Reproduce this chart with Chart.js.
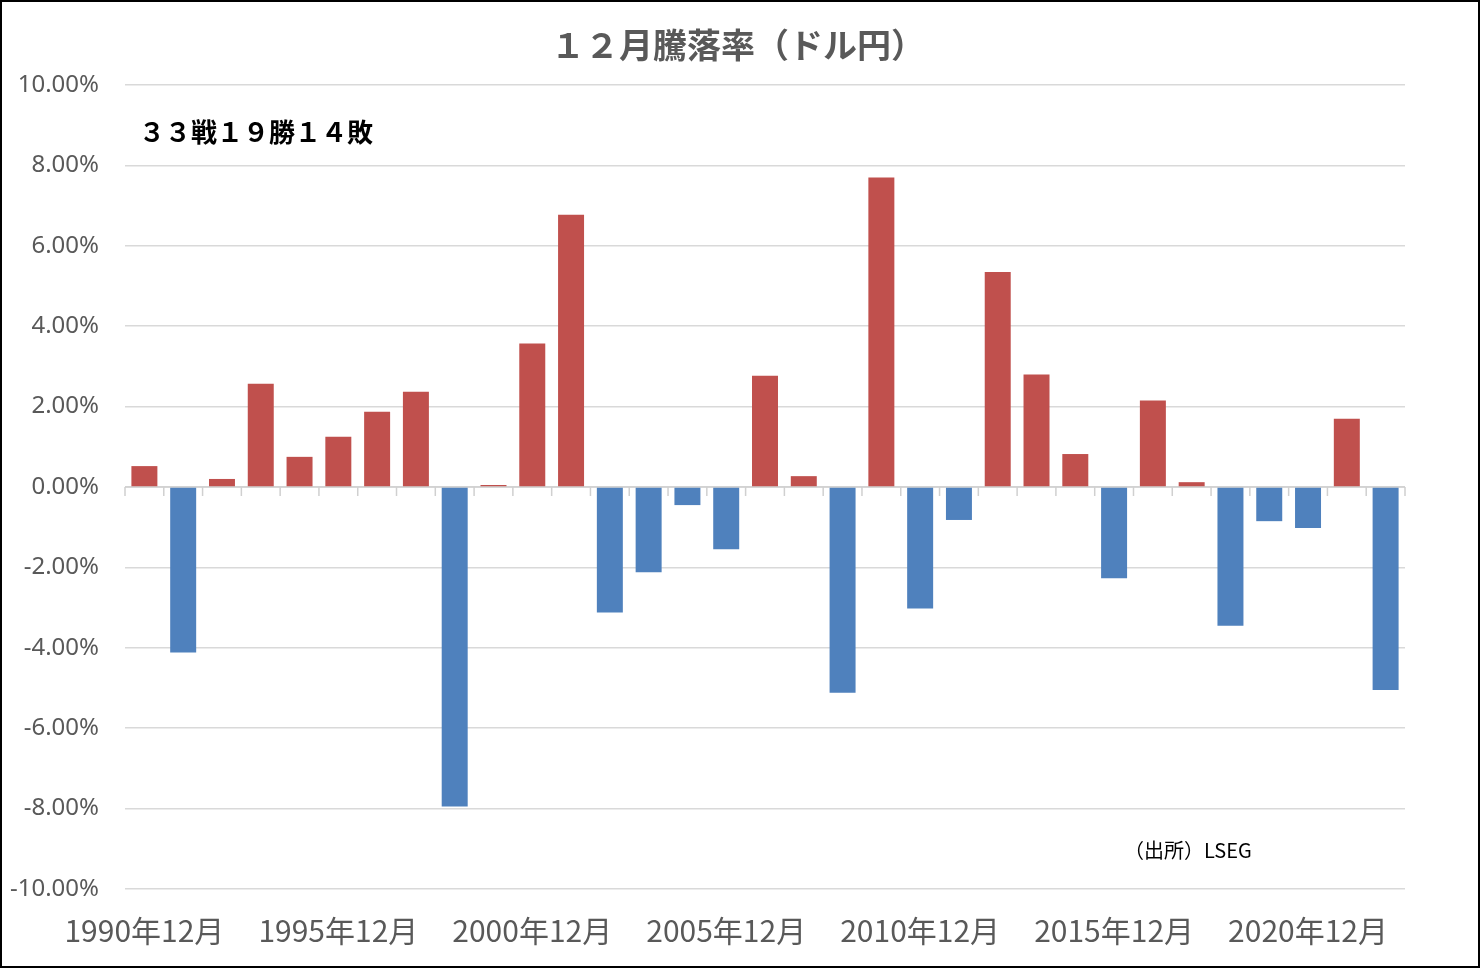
<!DOCTYPE html>
<html lang="ja">
<head>
<meta charset="utf-8">
<title>12月騰落率（ドル円）</title>
<script src="https://cdn.jsdelivr.net/npm/chart.js@4/dist/chart.umd.min.js"></script>
<style>
    html, body { margin: 0; padding: 0; background: #fff; }
    #wrap { width: 1480px; height: 968px; position: relative; }
</style>
</head>
<body>
<div id="wrap"><canvas id="chart" width="1480" height="968"></canvas></div>
<script>
// years 1990..2022, December change of USD/JPY (%)
const years = [1990, 1991, 1992, 1993, 1994, 1995, 1996, 1997, 1998, 1999,
    2000, 2001, 2002, 2003, 2004, 2005, 2006, 2007, 2008, 2009,
    2010, 2011, 2012, 2013, 2014, 2015, 2016, 2017, 2018, 2019,
    2020, 2021, 2022];
const changes = [0.52, -4.12, 0.20, 2.57, 0.75, 1.25, 1.87, 2.37, -7.95, 0.05,
    3.57, 6.77, -3.12, -2.12, -0.45, -1.55, 2.77, 0.27, -5.12, 7.70,
    -3.02, -0.82, 5.35, 2.80, 0.82, -2.27, 2.15, 0.12, -3.45, -0.85,
    -1.02, 1.70, -5.05];
const yTicks = [10, 8, 6, 4, 2, 0, -2, -4, -6, -8, -10];

const titleText = '１２月騰落率（ドル円）';
const recordText = '３３戦１９勝１４敗';
const sourceText = '（出所）LSEG';

const labels = years.map(y => y + '年12月');
const barColors = changes.map(v => v >= 0 ? '#C0504D' : '#4F81BD');

const jpFont = '"Noto Sans CJK JP", "Noto Sans", sans-serif';

// zero line with small ticks at category boundaries + texts + frame
const extras = {
    id: 'extras',
    beforeDatasetsDraw(chart) {
        const ctx = chart.ctx;
        const x = chart.scales.x;
        const y0 = chart.scales.y.getPixelForValue(0);
        const step = (x.right - x.left) / years.length;
        ctx.save();
        ctx.strokeStyle = '#d0d0d0';
        ctx.lineWidth = 1.5;
        ctx.beginPath();
        ctx.moveTo(x.left, y0);
        ctx.lineTo(x.right, y0);
        for (let i = 0; i <= years.length; i++) {
            const px = x.left + i * step;
            ctx.moveTo(px, y0);
            ctx.lineTo(px, y0 + 9);
        }
        ctx.stroke();
        ctx.restore();
    },
    afterDraw(chart) {
        const ctx = chart.ctx;
        ctx.save();
        ctx.textBaseline = 'middle';
        // title, centred on the whole picture like the original
        ctx.fillStyle = '#595959';
        ctx.textAlign = 'center';
        ctx.font = 'bold 34px ' + jpFont;
        ctx.fillText(titleText, 738, 45);
        ctx.textAlign = 'left';
        ctx.fillStyle = '#000';
        ctx.font = 'bold 26px ' + jpFont;
        ctx.fillText(recordText, 139, 132);
        ctx.font = '20px ' + jpFont;
        ctx.fillText(sourceText, 1124, 850);
        ctx.strokeStyle = '#000';
        ctx.lineWidth = 2;
        ctx.strokeRect(1, 1, chart.width - 2, chart.height - 2);
        ctx.restore();
    }
};

new Chart(document.getElementById('chart'), {
    type: 'bar',
    data: {
        labels: labels,
        datasets: [{
            data: changes,
            backgroundColor: barColors,
            borderWidth: 0,
            barPercentage: 0.67,
            categoryPercentage: 1.0
        }]
    },
    options: {
        responsive: false,
        animation: false,
        layout: { padding: { left: 0, right: 75, top: 85, bottom: 0 } },
        plugins: {
            legend: { display: false },
            tooltip: { enabled: false },
            title: { display: false }
        },
        scales: {
            x: {
                grid: { display: false },
                border: { display: false },
                ticks: {
                    autoSkip: false,
                    maxRotation: 0,
                    minRotation: 0,
                    color: '#595959',
                    font: { family: jpFont, size: 30 },
                    padding: 16,
                    callback: (val, i) => (i % 5 === 0 ? labels[i] : '')
                },
                afterFit: axis => { axis.height = 79; }
            },
            y: {
                min: -10,
                max: 10,
                afterBuildTicks: axis => { axis.ticks = yTicks.map(v => ({ value: v })); },
                grid: { color: '#d9d9d9', lineWidth: 1.5, drawTicks: false },
                border: { display: false },
                ticks: {
                    color: '#595959',
                    font: { family: '"Noto Sans", sans-serif', size: 24 },
                    padding: 26,
                    callback: v => v.toFixed(2) + '%'
                },
                afterFit: axis => { axis.width = 125; }
            }
        }
    },
    plugins: [extras]
});
</script>
</body>
</html>
